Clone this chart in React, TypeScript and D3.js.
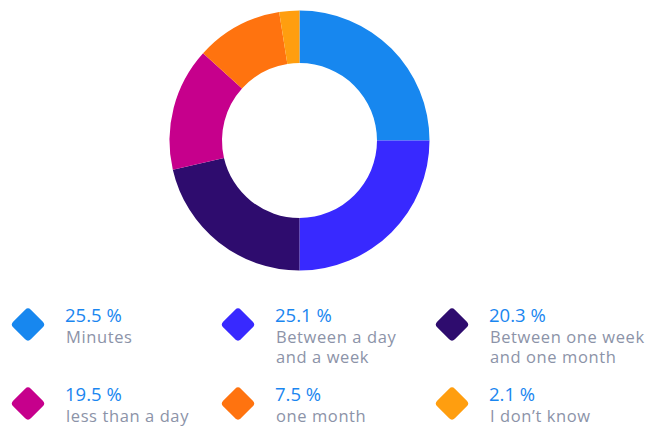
import React from "react";
import * as d3 from "d3";

const WIDTH = 650;
const HEIGHT = 427;

const categories = ["Minutes", "Between a day|and a week", "Between one week|and one month", "less than a day", "one month", "I don\u2019t know"];
// percentages printed in the legend
const values = [25.5, 25.1, 20.3, 19.5, 7.5, 2.1];
// share of the ring each slice takes in the picture
const sliceShares = [25, 25, 21.4, 15.3, 10.8, 2.5];
const colors = ["#1787EF", "#3829FF", "#2E0C6E", "#C6008C", "#FF730F", "#FF9E0F"];

const CENTER = { x: 299.5, y: 140.5 };
const OUTER = 130;
const INNER = 77.5;

const colX = [28, 238, 452];
const rowY = [324.5, 403.5];
const TEXT_DX = 37;

export default function App() {
  const pie = d3.pie<number>().sort(null).value((d) => d);
  const arcs = pie(sliceShares);
  const arcGen = d3.arc<d3.PieArcDatum<number>>().innerRadius(INNER).outerRadius(OUTER);

  return (
    <svg
      width={WIDTH}
      height={HEIGHT}
      style={{ position: "absolute", left: 0, top: 0, background: "#fff" }}
      fontFamily="'Open Sans', Lato, sans-serif"
    >
      <g transform={`translate(${CENTER.x},${CENTER.y})`}>
        {arcs.map((a, i) => (
          <path key={i} d={arcGen(a) ?? ""} fill={colors[i]} />
        ))}
      </g>
      {values.map((v, i) => {
        const cx = colX[i % 3];
        const cy = rowY[Math.floor(i / 3)];
        const lines = categories[i].split("|");
        return (
          <g key={i}>
            <rect
              x={cx - 12.5}
              y={cy - 12.5}
              width={25}
              height={25}
              rx={4}
              fill={colors[i]}
              transform={`rotate(45,${cx},${cy})`}
            />
            <text x={cx + TEXT_DX} y={cy - 2.5} fontSize={18.5} fill="#1A86F0">
              {d3.format(".1f")(v)} %
            </text>
            {lines.map((l, j) => (
              <text
                key={j}
                x={cx + TEXT_DX + 1}
                y={cy + 18.5 + j * 20}
                fontSize={16.5}
                letterSpacing={0.6}
                fill="#8C93A8"
              >
                {l}
              </text>
            ))}
          </g>
        );
      })}
    </svg>
  );
}
